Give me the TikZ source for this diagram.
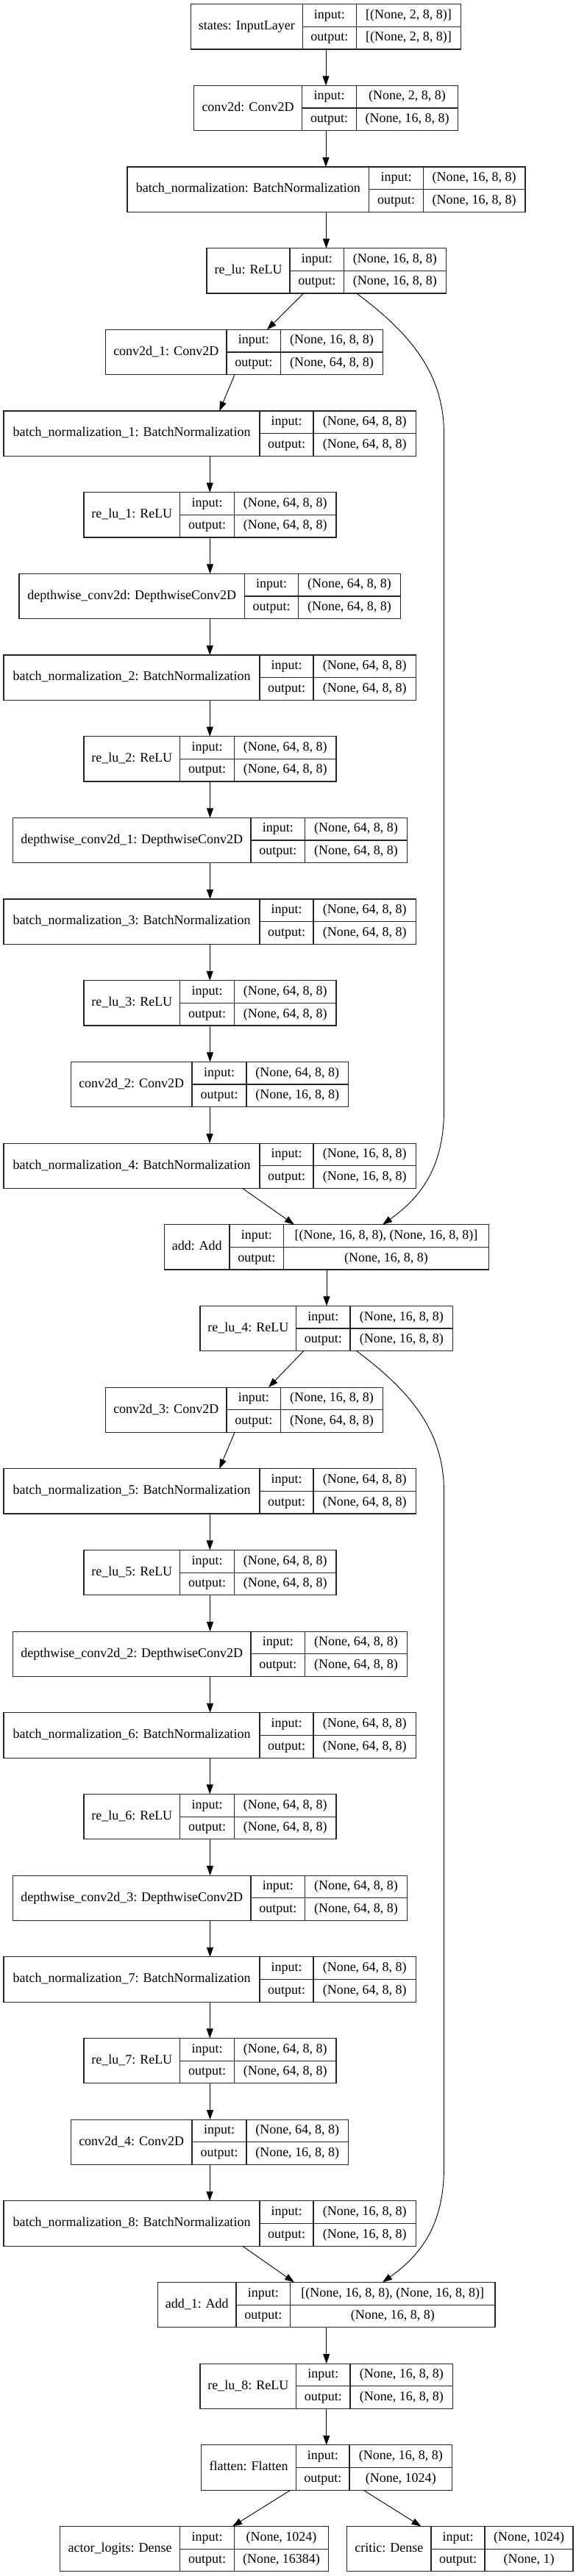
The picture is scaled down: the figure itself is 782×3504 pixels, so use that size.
\documentclass[tikz,border=0pt]{standalone}
\usepackage{fontspec}
\setmainfont{Liberation Serif}
\usetikzlibrary{arrows.meta}

\newcommand{\layer}[9]{%
  \pgfmathsetmacro{\ltop}{5.7+110.67*#2}
  \pgfmathsetmacro{\lmid}{\ltop+30.65}
  \pgfmathsetmacro{\lbot}{\ltop+61.3}
  \node[layerbox, minimum width={(#6-#3)*1pt}, anchor=north west] (#1) at (#3,\ltop) {};
  \draw[cellline] (#4,\ltop) -- (#4,\lbot) (#5,\ltop) -- (#5,\lbot) (#4,\lmid) -- (#6,\lmid);
  \node[celltext] (#1-name) at ({(#3+#4)/2},\lmid) {#7};
  \node[celltext] (#1-in) at ({(#4+#5)/2},{\ltop+15.33}) {input:};
  \node[celltext] (#1-out) at ({(#4+#5)/2},{\ltop+46}) {output:};
  \node[celltext] (#1-inval) at ({(#5+#6)/2},{\ltop+15.33}) {#8};
  \node[celltext] (#1-outval) at ({(#5+#6)/2},{\ltop+46}) {#9};
}

\begin{document}
\begin{tikzpicture}[x=1pt,y=-1pt]
\tikzstyle{layerbox} = [draw=black!85, line width=1.2pt, inner sep=0pt, outer sep=0pt, minimum height=61.3pt]
\tikzstyle{cellline} = [draw=black!85, line width=1.2pt]
\tikzstyle{celltext} = [inner sep=0pt, font=\fontsize{18}{22}\selectfont, text height=12.5pt, text depth=4pt]
\tikzset{edge/.style={-{Triangle[length=13pt,width=9pt]}, line width=0.9pt}}
\useasboundingbox (0,0) rectangle (782,3504);

\layer{states}{0}{259.3}{411.3}{484.3}{626.7}{states: InputLayer}{[(None, 2, 8, 8)]}{[(None, 2, 8, 8)]}
\layer{conv0}{1}{263.3}{410.7}{484.3}{622.7}{conv2d: Conv2D}{(None, 2, 8, 8)}{(None, 16, 8, 8)}
\layer{bn0}{2}{173}{501.7}{575.3}{714}{batch\_normalization: BatchNormalization}{(None, 16, 8, 8)}{(None, 16, 8, 8)}
\layer{relu0}{3}{281}{394}{467.6}{606.3}{re\_lu: ReLU}{(None, 16, 8, 8)}{(None, 16, 8, 8)}
\layer{conv1}{4}{143.5}{308}{381.5}{520.5}{conv2d\_1: Conv2D}{(None, 16, 8, 8)}{(None, 64, 8, 8)}
\layer{bn1}{5}{5}{353}{426}{565.5}{batch\_normalization\_1: BatchNormalization}{(None, 64, 8, 8)}{(None, 64, 8, 8)}
\layer{relu1}{6}{114}{244.5}{318.5}{457}{re\_lu\_1: ReLU}{(None, 64, 8, 8)}{(None, 64, 8, 8)}
\layer{dw0}{7}{26}{332.5}{405.5}{544.5}{depthwise\_conv2d: DepthwiseConv2D}{(None, 64, 8, 8)}{(None, 64, 8, 8)}
\layer{bn2}{8}{5}{353}{426}{565.5}{batch\_normalization\_2: BatchNormalization}{(None, 64, 8, 8)}{(None, 64, 8, 8)}
\layer{relu2}{9}{114}{244.5}{318.5}{457}{re\_lu\_2: ReLU}{(None, 64, 8, 8)}{(None, 64, 8, 8)}
\layer{dw1}{10}{17.5}{341}{414.5}{553.5}{depthwise\_conv2d\_1: DepthwiseConv2D}{(None, 64, 8, 8)}{(None, 64, 8, 8)}
\layer{bn3}{11}{5}{353}{426}{565.5}{batch\_normalization\_3: BatchNormalization}{(None, 64, 8, 8)}{(None, 64, 8, 8)}
\layer{relu3}{12}{114}{244.5}{318.5}{457}{re\_lu\_3: ReLU}{(None, 64, 8, 8)}{(None, 64, 8, 8)}
\layer{conv2}{13}{96.5}{261}{335}{473.5}{conv2d\_2: Conv2D}{(None, 64, 8, 8)}{(None, 16, 8, 8)}
\layer{bn4}{14}{5}{353}{426}{565.5}{batch\_normalization\_4: BatchNormalization}{(None, 16, 8, 8)}{(None, 16, 8, 8)}
\layer{add0}{15}{223.5}{312}{385.5}{664.5}{add: Add}{[(None, 16, 8, 8), (None, 16, 8, 8)]}{(None, 16, 8, 8)}
\layer{relu4}{16}{272}{402.5}{476}{615.5}{re\_lu\_4: ReLU}{(None, 16, 8, 8)}{(None, 16, 8, 8)}
\layer{conv3}{17}{143.5}{308}{381.5}{520.5}{conv2d\_3: Conv2D}{(None, 16, 8, 8)}{(None, 64, 8, 8)}
\layer{bn5}{18}{5}{353}{426}{565.5}{batch\_normalization\_5: BatchNormalization}{(None, 64, 8, 8)}{(None, 64, 8, 8)}
\layer{relu5}{19}{114}{244.5}{318.5}{457}{re\_lu\_5: ReLU}{(None, 64, 8, 8)}{(None, 64, 8, 8)}
\layer{dw2}{20}{17.5}{341}{414.5}{553.5}{depthwise\_conv2d\_2: DepthwiseConv2D}{(None, 64, 8, 8)}{(None, 64, 8, 8)}
\layer{bn6}{21}{5}{353}{426}{565.5}{batch\_normalization\_6: BatchNormalization}{(None, 64, 8, 8)}{(None, 64, 8, 8)}
\layer{relu6}{22}{114}{244.5}{318.5}{457}{re\_lu\_6: ReLU}{(None, 64, 8, 8)}{(None, 64, 8, 8)}
\layer{dw3}{23}{17.5}{341}{414.5}{553.5}{depthwise\_conv2d\_3: DepthwiseConv2D}{(None, 64, 8, 8)}{(None, 64, 8, 8)}
\layer{bn7}{24}{5}{353}{426}{565.5}{batch\_normalization\_7: BatchNormalization}{(None, 64, 8, 8)}{(None, 64, 8, 8)}
\layer{relu7}{25}{114}{244.5}{318.5}{457}{re\_lu\_7: ReLU}{(None, 64, 8, 8)}{(None, 64, 8, 8)}
\layer{conv4}{26}{96.5}{261}{335}{473.5}{conv2d\_4: Conv2D}{(None, 64, 8, 8)}{(None, 16, 8, 8)}
\layer{bn8}{27}{5}{353}{426}{565.5}{batch\_normalization\_8: BatchNormalization}{(None, 16, 8, 8)}{(None, 16, 8, 8)}
\layer{add1}{28}{214.5}{321}{394.5}{673}{add\_1: Add}{[(None, 16, 8, 8), (None, 16, 8, 8)]}{(None, 16, 8, 8)}
\layer{relu8}{29}{272}{402.5}{476}{615.5}{re\_lu\_8: ReLU}{(None, 16, 8, 8)}{(None, 16, 8, 8)}
\layer{flatten}{30}{273.5}{402.5}{475}{614.5}{flatten: Flatten}{(None, 16, 8, 8)}{(None, 1024)}
\layer{actor}{31}{81.5}{244.5}{318.5}{446.5}{actor\_logits: Dense}{(None, 1024)}{(None, 16384)}
\layer{critic}{31}{471.5}{586}{659}{779}{critic: Dense}{(None, 1024)}{(None, 1)}

\foreach \a/\b in {states/conv0, conv0/bn0, bn0/relu0, bn1/relu1, relu1/dw0, dw0/bn2, bn2/relu2,
  relu2/dw1, dw1/bn3, bn3/relu3, relu3/conv2, conv2/bn4, add0/relu4, bn5/relu5, relu5/dw2,
  dw2/bn6, bn6/relu6, relu6/dw3, dw3/bn7, bn7/relu7, relu7/conv4, conv4/bn8, add1/relu8, relu8/flatten}
  \draw[edge] (\a.south) -- (\a.south |- \b.north);

\draw[edge] ([xshift=-31pt]relu0.south) -- ([xshift=31pt]conv1.north);
\draw[edge] ([xshift=-13pt]conv1.south) -- ([xshift=13pt]bn1.north);
\draw[edge] ([xshift=44.25pt]bn4.south) -- ([xshift=-44pt]add0.north);
\draw[edge] ([xshift=-31pt]relu4.south) -- ([xshift=33pt]conv3.north);
\draw[edge] ([xshift=-13pt]conv3.south) -- ([xshift=13pt]bn5.north);
\draw[edge] ([xshift=44.25pt]bn8.south) -- ([xshift=-43.75pt]add1.north);
\draw[edge] ([xshift=-49pt]flatten.south) -- ([xshift=52pt]actor.north);
\draw[edge] ([xshift=50pt]flatten.south) -- ([xshift=-52.75pt]critic.north);

\draw[edge] ([xshift=41pt]relu0.south) .. controls (560,455) and (603.5,510) .. (603.5,590)
  -- (603.5,1510) .. controls (603.5,1590) and (570,1630) .. ([xshift=76pt]add0.north);
\draw[edge] ([xshift=41pt]relu4.south) .. controls (560,1893.7) and (603.5,1948.7) .. (603.5,2028.7)
  -- (603.5,2948.7) .. controls (603.5,3028.7) and (570,3068.7) .. ([xshift=76.25pt]add1.north);

\end{tikzpicture}
\end{document}
